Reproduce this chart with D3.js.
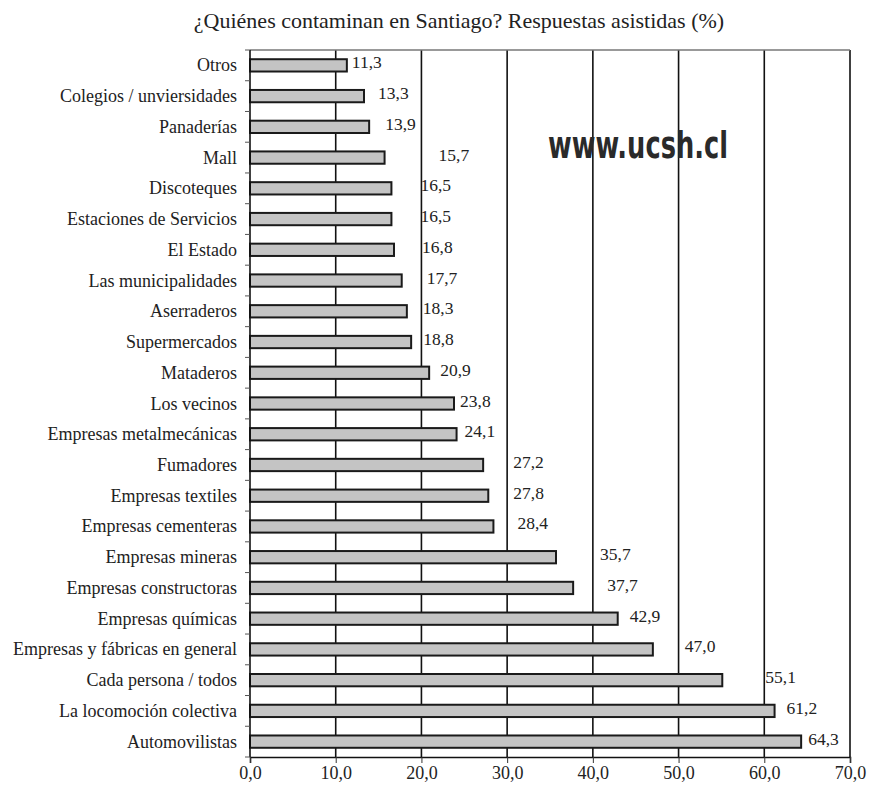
<!DOCTYPE html>
<html>
<head>
<meta charset="utf-8">
<script src="https://cdn.jsdelivr.net/npm/d3@7"></script>
<style>
  body { margin: 0; background: #fff; }
</style>
</head>
<body>
<div id="grafico"></div>
<script>
// datos (de arriba hacia abajo)
const categorias = [
    "Otros", "Colegios / unviersidades", "Panaderías", "Mall", "Discoteques",
    "Estaciones de Servicios", "El Estado", "Las municipalidades", "Aserraderos",
    "Supermercados", "Mataderos", "Los vecinos", "Empresas metalmecánicas",
    "Fumadores", "Empresas textiles", "Empresas cementeras", "Empresas mineras",
    "Empresas constructoras", "Empresas químicas", "Empresas y fábricas en general",
    "Cada persona / todos", "La locomoción colectiva", "Automovilistas"
];
const valores = [
    11.3, 13.3, 13.9, 15.7, 16.5, 16.5, 16.8, 17.7, 18.3, 18.8, 20.9, 23.8,
    24.1, 27.2, 27.8, 28.4, 35.7, 37.7, 42.9, 47.0, 55.1, 61.2, 64.3
];
const ticksX = [0, 10, 20, 30, 40, 50, 60, 70];

// separacion (px) entre la punta de la barra y su etiqueta, como en el original
const separacionEtiqueta = [
    5, 14, 16, 54, 29, 29, 28, 25, 16, 12, 11, 6,
    8, 30, 25, 24, 44, 34, 12, 32, 43, 12, 7
];

const ancho = 876, alto = 798;
const margen = { arriba: 50, derecha: 26, abajo: 41, izquierda: 250 };
const fuente = "'Liberation Serif', 'DejaVu Serif', serif";
const formato = v => d3.format(".1f")(v).replace(".", ",");

const $svg = d3.select("#grafico")
    .append("svg")
    .attr("width", ancho)
    .attr("height", alto);

const x = d3.scaleLinear()
    .domain([0, 70])
    .range([margen.izquierda, ancho - margen.derecha]);

const y = d3.scaleBand()
    .domain(categorias)
    .range([margen.arriba, alto - margen.abajo])
    .paddingInner(0.6)
    .paddingOuter(0.3);

// titulo
$svg.append("text")
    .attr("x", 459)
    .attr("y", 28)
    .attr("text-anchor", "middle")
    .attr("font-family", fuente)
    .attr("font-size", 22)
    .attr("fill", "#222")
    .text("¿Quiénes contaminan en Santiago? Respuestas asistidas (%)");

// lineas de grilla verticales
$svg.append("g")
    .selectAll("line")
    .data(ticksX.slice(1))
    .join("line")
    .attr("x1", d => x(d))
    .attr("x2", d => x(d))
    .attr("y1", margen.arriba)
    .attr("y2", alto - margen.abajo)
    .attr("stroke", "#111")
    .attr("stroke-width", 1.6);

// borde superior
$svg.append("line")
    .attr("x1", x(0))
    .attr("x2", x(70))
    .attr("y1", margen.arriba)
    .attr("y2", margen.arriba)
    .attr("stroke", "#777")
    .attr("stroke-width", 1.5);

// barras
$svg.append("g")
    .selectAll("rect")
    .data(valores)
    .join("rect")
    .attr("x", x(0))
    .attr("y", (d, i) => y(categorias[i]))
    .attr("width", d => x(d) - x(0))
    .attr("height", y.bandwidth())
    .attr("fill", "#c4c4c4")
    .attr("stroke", "#1a1a1a")
    .attr("stroke-width", 2);

// etiquetas de valor
$svg.append("g")
    .selectAll("text")
    .data(valores)
    .join("text")
    .attr("x", (d, i) => x(d) + separacionEtiqueta[i])
    .attr("y", (d, i) => y(categorias[i]) + y.bandwidth() / 2 - 3)
    .attr("dominant-baseline", "central")
    .attr("font-family", fuente)
    .attr("font-size", 17.5)
    .attr("fill", "#222")
    .text(d => formato(d));

// eje izquierdo: linea y marcas entre categorias
const ejeY = $svg.append("g");
ejeY.append("line")
    .attr("x1", x(0)).attr("x2", x(0))
    .attr("y1", margen.arriba).attr("y2", alto - margen.abajo)
    .attr("stroke", "#111")
    .attr("stroke-width", 1.6);
ejeY.selectAll("line.marca")
    .data(d3.range(categorias.length + 1))
    .join("line")
    .attr("class", "marca")
    .attr("x1", x(0) - 5).attr("x2", x(0))
    .attr("y1", i => margen.arriba + i * y.step())
    .attr("y2", i => margen.arriba + i * y.step())
    .attr("stroke", "#555")
    .attr("stroke-width", 1);
ejeY.selectAll("text")
    .data(categorias)
    .join("text")
    .attr("x", x(0) - 13)
    .attr("y", d => y(d) + y.bandwidth() / 2)
    .attr("dominant-baseline", "central")
    .attr("text-anchor", "end")
    .attr("font-family", fuente)
    .attr("font-size", 18)
    .attr("fill", "#222")
    .text(d => d);

// eje inferior
const ejeX = $svg.append("g")
    .attr("transform", `translate(0,${alto - margen.abajo})`)
    .call(d3.axisBottom(x).tickValues(ticksX).tickSize(6).tickPadding(3).tickFormat(formato));
ejeX.select(".domain").attr("stroke", "#111").attr("stroke-width", 1.6);
ejeX.selectAll(".tick line").attr("stroke", "#333");
ejeX.selectAll("text")
    .attr("font-family", fuente)
    .attr("font-size", 18)
    .attr("fill", "#222");

// marca de agua
$svg.append("text")
    .attr("x", 638)
    .attr("y", 145)
    .attr("text-anchor", "middle")
    .attr("dominant-baseline", "central")
    .attr("font-family", "'Liberation Sans Narrow', 'DejaVu Sans Condensed', sans-serif")
    .attr("font-size", 38)
    .attr("font-weight", "bold")
    .attr("textLength", 180)
    .attr("lengthAdjust", "spacingAndGlyphs")
    .attr("fill", "#2a2a2a")
    .text("www.ucsh.cl");
</script>
</body>
</html>
